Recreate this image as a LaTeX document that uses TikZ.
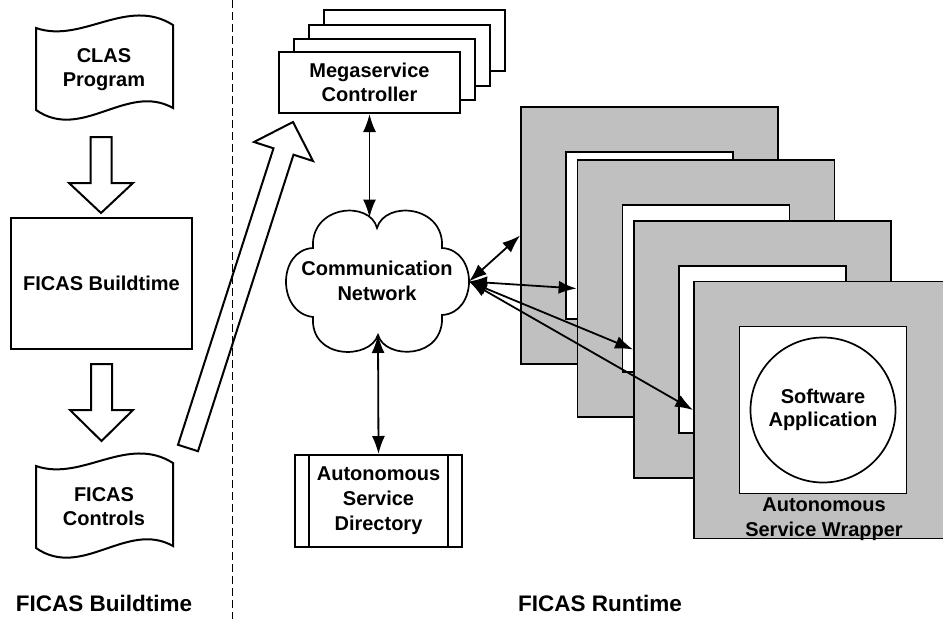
\documentclass[tikz,border=0pt]{standalone}
\usepackage{fontspec}
\setmainfont{Liberation Sans}
\usetikzlibrary{arrows.meta,calc}
\definecolor{wgray}{RGB}{192,192,192}
\begin{document}
\begin{tikzpicture}[x=1pt,y=-1pt,
  txt/.style={font=\fontsize{20}{24}\selectfont\bfseries, align=center, inner sep=0pt},
  lbl/.style={font=\fontsize{22.5}{26}\selectfont\bfseries, inner sep=0pt},
  box/.style={draw, line width=2pt, fill=white, inner sep=0pt},
  wrap/.style={draw, line width=1.8pt, fill=wgray, minimum size=257pt, inner sep=0pt},
  panel/.style={draw, line width=1.8pt, fill=white, minimum size=167pt, inner sep=0pt},
  blk/.style={draw, line width=2pt, line join=miter},
  doc/.style={draw, line width=2pt, fill=white},
  link/.style={line width=1.8pt, {Latex[length=18pt,width=13pt]}-{Latex[length=18pt,width=13pt]}},
]
\useasboundingbox (0,0) rectangle (943,619);

% separator
\draw[line width=1pt, dash pattern=on 8pt off 4pt] (232,0) -- (232,619);

% ---------- Buildtime side ----------
\draw[doc] (36,28) .. controls (82,44) and (127,-4) .. (173,25) -- (173,108)
  .. controls (127,82) and (82,142) .. (36,110) -- cycle;
\node[txt] (clas) at (104,70) {CLAS\\Program};

\draw[blk, fill=white] (90.5,137) -- (111.5,137) -- (111.5,183) -- (133,183) -- (101,213)
  -- (69,183) -- (90.5,183) -- cycle;

\node[box, minimum width=181pt, minimum height=131pt, txt] (build) at (101.5,283.5) {FICAS Buildtime};

\draw[blk, fill=white] (91,364) -- (112,364) -- (112,410) -- (133,410) -- (101.5,441)
  -- (70,410) -- (91,410) -- cycle;

\draw[doc] (36,466) .. controls (82,482) and (127,434) .. (173,463) -- (173,546)
  .. controls (127,520) and (82,580) .. (36,548) -- cycle;
\node[txt] (ctrl) at (104,507) {FICAS\\Controls};

% big hollow arrow to the megaservice controller
\draw[blk] (178,444.8) -- (273.5,148.3) -- (254,142) -- (293,122) -- (313,161)
  -- (293.5,154.7) -- (198,451.2) -- cycle;

\node[lbl] (lb) at (104,603) {FICAS Buildtime};

% ---------- Runtime side ----------
\draw[box] (324,10) rectangle (505,71);
\draw[box] (309,25) rectangle (490,86);
\draw[box] (294,39) rectangle (475,100);
\node[box, minimum width=181pt, minimum height=61pt, txt] (mega) at (369.5,82.5) {Megaservice\\Controller};

% cloud
\draw[line width=1.7pt, fill=white] (313,248)
  .. controls (310,205) and (370,200) .. (377,228)
  .. controls (385,200) and (445,205) .. (442,248)
  .. controls (478,250) and (478,313) .. (442,315)
  .. controls (445,360) and (385,360) .. (378,335)
  .. controls (370,360) and (310,360) .. (313,317)
  .. controls (277,313) and (277,250) .. (313,248) -- cycle;
\node[txt, font=\fontsize{20}{25}\selectfont\bfseries] (net) at (377,281) {Communication\\Network};
\coordinate (ctop) at (369.5,217.5);
\coordinate (cbot) at (378,335);
\coordinate (cright) at (469,281.5);

% directory
\node[box, minimum width=167pt, minimum height=92pt, txt, font=\fontsize{20}{25}\selectfont\bfseries] (asd) at (378.5,501) {Autonomous\\Service\\Directory};
\draw[line width=2pt] ([xshift=15pt]asd.north west) -- ([xshift=15pt]asd.south west);
\draw[line width=2pt] ([xshift=-15pt]asd.north east) -- ([xshift=-15pt]asd.south east);

% wrappers
\node[wrap] (w1) at (649.5,235.5) {};
\node[panel] (p1) at (649.5,235.5) {};
\node[wrap] (w2) at (706,288.5) {};
\node[panel] (p2) at (706,288.5) {};
\node[wrap] (w3) at (762.5,349.5) {};
\node[panel] (p3) at (762.5,349.5) {};
\node[wrap] (w4) at (822.5,410) {};
\node[panel] (p4) at (823,410) {};
\node[draw, circle, line width=1.7pt, minimum size=145pt, inner sep=0pt, txt, font=\fontsize{20}{23.5}\selectfont\bfseries] (sa) at (823,410) {Software\\Application};
\node[txt, font=\fontsize{20}{25}\selectfont\bfseries] (asw) at (824,519) {Autonomous\\Service Wrapper};

% connectors
\draw[link] (mega.south) -- (ctop);
\draw[link] (cbot) -- (asd.north);
\draw[link] (cright) -- (w1.west);
\draw[link] (cright) -- (w2.west);
\draw[link] (cright) -- (w3.west);
\draw[link] (cright) -- (w4.west);

\node[lbl] (lr) at (600,603) {FICAS Runtime};
\end{tikzpicture}
\end{document}
